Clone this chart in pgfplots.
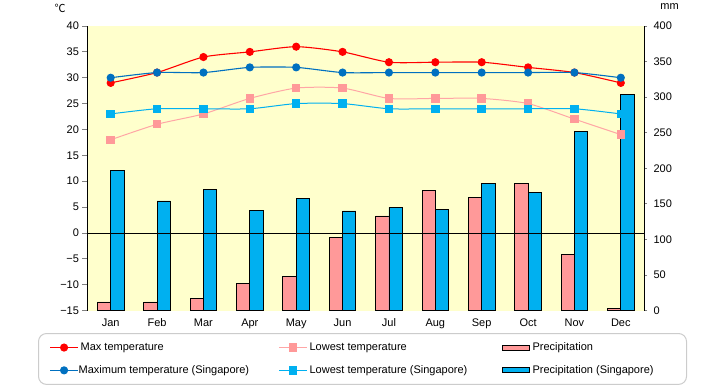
\documentclass[border=0pt]{standalone}
\usepackage{pgfplots}
\usepackage{pgfplotstable}
\pgfplotsset{compat=1.18}
\usepackage{fontspec}
\setmainfont{Liberation Sans}
\newfontfamily\cjk{Noto Sans CJK JP}
\definecolor{maxred}{HTML}{FF0000}
\definecolor{lowpink}{HTML}{FF9999}
\definecolor{lowpinkline}{HTML}{FFA6A6}
\definecolor{sgmax}{HTML}{0070C0}
\definecolor{sglow}{HTML}{00B0F0}
\definecolor{bg}{HTML}{FFFFCC}
\definecolor{bluebar}{HTML}{00B0F0}
\pgfplotstableread{
m maxt lowt prec sgmax sglow sgprec
1 29 18 12 30 23 197
2 31 21 12 31 24 154
3 34 23 17 31 24 170
4 35 26 38 32 24 141
5 36 28 48 32 25 158
6 35 28 103 31 25 140
7 33 26 133 31 24 145
8 33 26 169 31 24 142
9 33 26 159 31 24 178
10 32 25 179 31 24 166
11 31 22 79 31 24 252
12 29 19 3 30 23 304
}\data
\begin{document}
\begin{tikzpicture}[font=\fontsize{11bp}{13bp}\selectfont]
\pgfplotsset{every axis/.append style={scale only axis, width=556.5bp, height=284.5bp,
  xmin=0.5, xmax=12.5, clip=false,
  /pgf/number format/assume math mode=true,
  tick label style={font=\fontsize{11bp}{13bp}\selectfont}}}
\begin{axis}[name=bars,
  axis background/.style={fill=bg},
  ymin=0, ymax=400, ytick={0,50,...,400},
  axis y line*=right, axis x line=none,
  tick align=outside, major tick length=3bp,
  yticklabel style={xshift=3bp},
  y axis line style={line width=0.8bp}, ytick style={line width=0.8bp},
  ybar=0pt, bar width=13.3bp]
\addplot[fill=lowpink, draw=black, line width=0.8bp] table[x=m,y=prec]{\data};
\addplot[fill=bluebar, draw=black, line width=0.8bp] table[x=m,y=sgprec]{\data};
\node at ([xshift=25.5bp,yshift=19bp]rel axis cs:1,1) {mm};
\end{axis}
\begin{axis}[
  axis y line*=left, axis x line*=bottom,
  x axis line style={draw=none}, xtick style={draw=none},
  xtick={1,...,12},
  xticklabels={Jan,Feb,Mar,Apr,May,Jun,Jul,Aug,Sep,Oct,Nov,Dec},
  ymin=-15, ymax=40, ytick={-15,-10,...,40},
  yticklabels={−15,−10,−5,0,5,10,15,20,25,30,35,40},
  tick align=outside, major tick length=5bp,
  y axis line style={line width=0.8bp}, ytick style={line width=0.8bp},
  extra y ticks={0}, extra y tick labels={},
  extra y tick style={grid=major, major grid style={black, line width=0.8bp}, major tick length=0pt},
  legend image code/.code={\draw[mark repeat=2,mark phase=2,#1] plot coordinates {(0bp,0bp)(14bp,0bp)(28bp,0bp)};},
  legend columns=3,
  legend cell align=left,
  legend style={at={(0.4942,-0.0791)}, anchor=north, draw=black!20, line width=1bp,
    rounded corners=8bp, inner xsep=11bp, inner ysep=8.8bp, column sep=0pt, row sep=12.3bp,
    nodes={inner sep=0pt, anchor=west, text height=8bp, text depth=2.5bp},
    font=\fontsize{11bp}{13bp}\selectfont},
]
\addplot[maxred, line width=1.1bp, mark=*, mark size=3.5bp, mark options={solid,fill=maxred}, smooth, tension=0.4] table[x=m,y=maxt]{\data};
\addlegendentry{\makebox[200bp][l]{\hspace{2bp}Max temperature}}
\addplot[lowpinkline, line width=1bp, mark=square*, mark size=3.7bp, mark options={solid,draw=lowpink,fill=lowpink}, smooth, tension=0.4] table[x=m,y=lowt]{\data};
\addlegendentry{\makebox[194bp][l]{\hspace{2bp}Lowest temperature}}
\addlegendimage{legend image code/.code={\draw[sharp corners,fill=lowpink,draw=black,line width=0.9bp] (0bp,-2.5bp) rectangle (27bp,2.5bp);}}
\addlegendentry{\makebox[146bp][l]{\hspace{3bp}Precipitation}}
\addplot[sgmax, line width=1.1bp, mark=*, mark size=3.5bp, mark options={solid,fill=sgmax}, smooth, tension=0.4] table[x=m,y=sgmax]{\data};
\addlegendentry{\makebox[200bp][l]{Maximum temperature (Singapore)}}
\addplot[sglow, line width=1bp, mark=square*, mark size=3.7bp, mark options={solid,fill=sglow}, smooth, tension=0.4] table[x=m,y=sglow]{\data};
\addlegendentry{\makebox[194bp][l]{\hspace{2bp}Lowest temperature (Singapore)}}
\addlegendimage{legend image code/.code={\draw[sharp corners,fill=bluebar,draw=black,line width=0.9bp] (0bp,-2.5bp) rectangle (27bp,2.5bp);}}
\addlegendentry{\makebox[146bp][l]{\hspace{3bp}Precipitation (Singapore)}}
\node at ([xshift=-27.5bp,yshift=18bp]rel axis cs:0,1) {\cjk ℃};
\end{axis}
\pgfresetboundingbox
\path[use as bounding box] ([shift={(-87.5bp,-74.5bp)}]bars.south west) rectangle ([shift={(76bp,26bp)}]bars.north east);
\end{tikzpicture}
\end{document}
